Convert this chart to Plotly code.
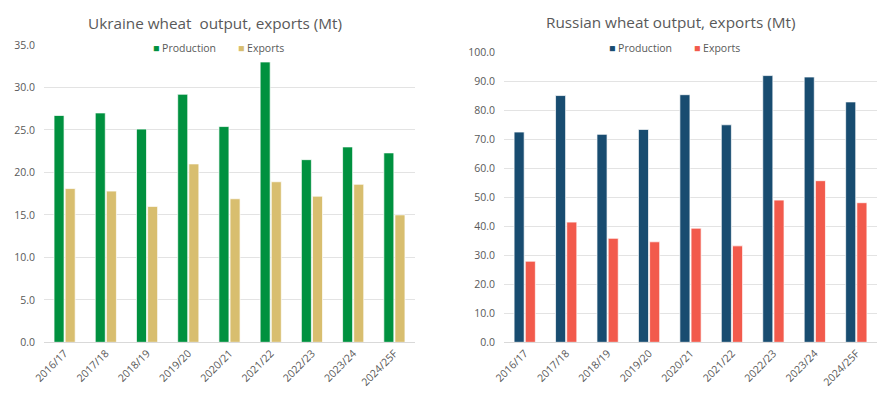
import plotly.graph_objects as go

# Marketing years shared by both charts
seasons = ["2016/17", "2017/18", "2018/19", "2019/20", "2020/21",
           "2021/22", "2022/23", "2023/24", "2024/25F"]

# Ukraine wheat (Mt)
ua_production = [26.7, 27.0, 25.1, 29.2, 25.4, 33.0, 21.5, 23.0, 22.3]
ua_exports = [18.1, 17.8, 16.0, 21.0, 16.9, 18.9, 17.2, 18.6, 15.0]

# Russia wheat (Mt)
ru_production = [72.6, 85.2, 71.8, 73.5, 85.5, 75.1, 92.1, 91.6, 83.0]
ru_exports = [28.0, 41.5, 35.9, 34.7, 39.4, 33.3, 49.1, 55.8, 48.2]

UA_PROD = "#00913F"
UA_EXP = "#D8BE6F"
RU_PROD = "#184C70"
RU_EXP = "#F25A4C"
TEXT = "#595959"
GRID = "#E3E3E3"
FONT = "Open Sans"

W, H = 877, 394


def px_x(x):
    return x / W


def px_y(y):
    return (H - y) / H


fig = go.Figure()

bar_line = dict(color="rgba(255,255,255,0.7)", width=1)
fig.add_trace(go.Bar(x=seasons, y=ua_production, name="Production",
                     marker=dict(color=UA_PROD, line=bar_line),
                     xaxis="x", yaxis="y", showlegend=False))
fig.add_trace(go.Bar(x=seasons, y=ua_exports, name="Exports",
                     marker=dict(color=UA_EXP, line=bar_line),
                     xaxis="x", yaxis="y", showlegend=False))
fig.add_trace(go.Bar(x=seasons, y=ru_production, name="Production",
                     marker=dict(color=RU_PROD, line=bar_line),
                     xaxis="x2", yaxis="y2", showlegend=False))
fig.add_trace(go.Bar(x=seasons, y=ru_exports, name="Exports",
                     marker=dict(color=RU_EXP, line=bar_line),
                     xaxis="x2", yaxis="y2", showlegend=False))

xcommon = dict(tickangle=-45, tickfont=dict(family=FONT, size=10.5, color=TEXT),
               showline=True, linecolor="#D9D9D9", linewidth=1,
               ticks="", showgrid=False, fixedrange=True, automargin=False)
ycommon = dict(tickformat=".1f", tickfont=dict(family=FONT, size=10.5, color=TEXT),
               showgrid=True, gridcolor=GRID, gridwidth=1, zeroline=False,
               showline=False, ticks="", ticklabelstandoff=8, fixedrange=True,
               automargin=False)

bottom = px_y(342.3)
fig.update_layout(
    width=W, height=H,
    margin=dict(l=0, r=0, t=0, b=0, pad=0, autoexpand=False),
    paper_bgcolor="white", plot_bgcolor="white",
    barmode="group", bargap=0.46, bargroupgap=0.1,
    font=dict(family=FONT, color=TEXT),
    xaxis=dict(domain=[px_x(44), px_x(415)], anchor="y", **xcommon),
    yaxis=dict(domain=[bottom, px_y(45)], range=[0, 35], dtick=5,
               anchor="x", **ycommon),
    xaxis2=dict(domain=[px_x(504), px_x(877)], anchor="y2", **xcommon),
    yaxis2=dict(domain=[bottom, px_y(52.7)], range=[0, 100], dtick=10,
                anchor="x2", **ycommon),
)

# Chart titles
titles = [("Ukraine wheat  output, exports (Mt)", 215, 23),
          ("Russian wheat output, exports (Mt)", 670, 22)]
for text, cx, cy in titles:
    fig.add_annotation(text=text, x=px_x(cx), y=px_y(cy), xref="paper",
                       yref="paper", xanchor="center", yanchor="middle",
                       showarrow=False, font=dict(family=FONT, size=15.3, color=TEXT))

# Legends drawn above each chart
legend_items = [("Production", UA_PROD, 151, 48), ("Exports", UA_EXP, 236, 48),
                ("Production", RU_PROD, 607, 48), ("Exports", RU_EXP, 692, 48)]
for label, color, lx, ly in legend_items:
    fig.add_annotation(
        text=f'<span style="color:{color}">■</span> {label}',
        x=px_x(lx), y=px_y(ly), xref="paper", yref="paper",
        xanchor="left", yanchor="middle", showarrow=False,
        font=dict(family=FONT, size=10.5, color=TEXT), bgcolor="white")

fig.write_html("out.html")
